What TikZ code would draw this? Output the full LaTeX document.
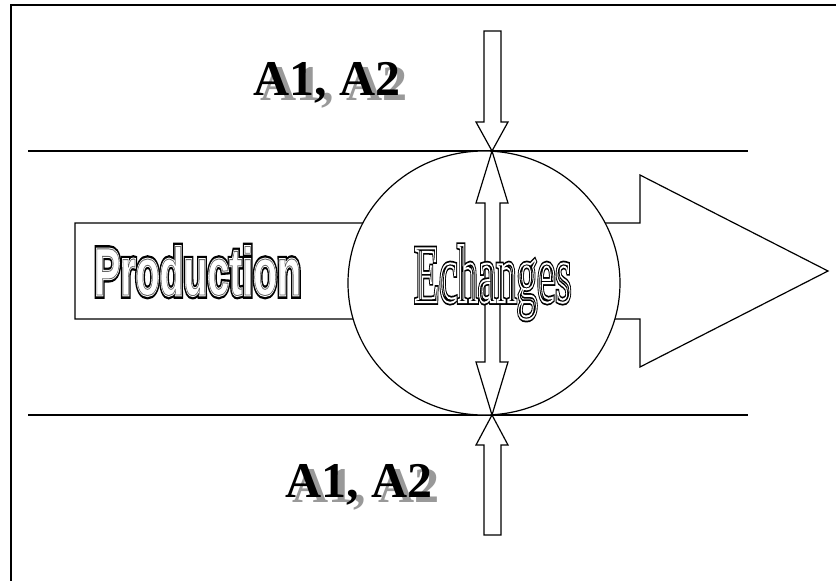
\documentclass[tikz,border=0pt]{standalone}
\usepackage{fontspec}
\setmainfont{Liberation Serif}
\newfontfamily\prodfont{Liberation Sans}
\usepackage{graphicx}
\newcommand{\trtext}[3]{\special{pdf:literal direct #1 Tr #2 w}#3\special{pdf:literal direct 0 Tr}}
\newcommand{\heavyoutline}[1]{\rlap{\trtext{1}{7.5}{#1}}\rlap{\textcolor{white}{\trtext{2}{2.8}{#1}}}\textcolor{black!60}{\trtext{1}{0.9}{#1}}}
\newcommand{\doubleoutline}[3]{\rlap{\trtext{1}{#1}{#3}}\textcolor{white}{\trtext{1}{#2}{#3}}}
\begin{document}
\begin{tikzpicture}[x=1pt,y=-1pt,line join=miter,
  shapeline/.style={draw=black,line width=1.2pt,fill=white},
  plainline/.style={draw=black,line width=1.2pt},
  frameline/.style={draw=black,line width=2.2pt},
  atext/.style={anchor=base west,inner sep=0pt,font=\bfseries\fontsize{50}{50}\selectfont},
  ashadow/.style={atext,text=black!40},
  outl/.style={anchor=base west,inner sep=0pt}]
\useasboundingbox (0,0) rectangle (836,581);
% frame
\draw[frameline] (11,585) -- (11,5) -- (840,5);
% horizontal lines
\draw[plainline] (28,151) -- (748,151);
\draw[plainline] (28,415) -- (748,415);
% big production arrow
\draw[shapeline] (75,223) -- (640,223) -- (640,175) -- (828,271) -- (640,367) -- (640,319) -- (75,319) -- cycle;
% exchange circle
\draw[shapeline] (484,283) ellipse [x radius=136, y radius=132];
% top arrow
\draw[shapeline] (484,31) -- (501,31) -- (501,122) -- (508,122) -- (492,151) -- (476,122) -- (484,122) -- cycle;
% bottom arrow
\draw[shapeline] (484,535) -- (501,535) -- (501,445) -- (508,445) -- (492,415) -- (476,445) -- (484,445) -- cycle;
% double arrow inside circle
\draw[plainline] (492,151) -- (508,203) -- (500,203) -- (500,362) -- (508,362) -- (492,415) -- (476,362) -- (485,362) -- (485,203) -- (476,203) -- cycle;
% texts
\node[ashadow] (a1s) at (260,100) {A1, A2};
\node[atext] (a1) at (253,95) {A1, A2};
\node[ashadow] (a2s) at (292,502) {A1, A2};
\node[atext] (a2) at (285,497) {A1, A2};
\node[outl] (prod) at (94,295) {\scalebox{0.585}[1]{\prodfont\bfseries\fontsize{67}{67}\selectfont\heavyoutline{Production}}};
\node[outl] (ech) at (414,302) {\scalebox{0.5}[1]{\fontsize{82}{82}\selectfont\doubleoutline{5.5}{2}{Echanges}}};
\end{tikzpicture}
\end{document}
